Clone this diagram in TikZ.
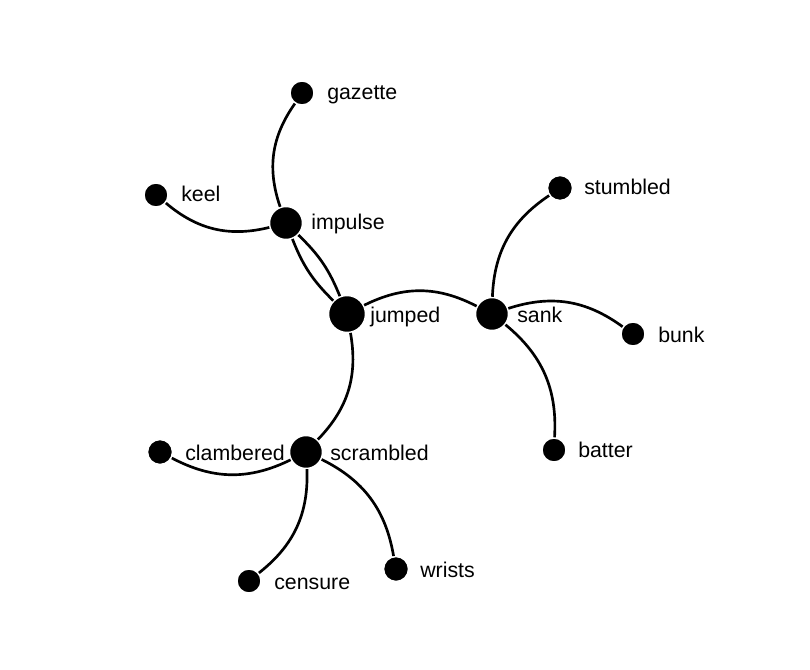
\documentclass[tikz,border=0pt]{standalone}
\usepackage{fontspec}
\setmainfont{Liberation Sans}

\begin{document}
\begin{tikzpicture}[x=0.75pt, y=0.75pt,
  dot/.style={circle, fill=black, draw=white, line width=1.1pt, inner sep=0pt, minimum size=#1},
  word/.style={anchor=base west, inner sep=0pt, font=\fontsize{16}{19}\selectfont},
  link/.style={line width=2pt, bend left=#1},
  link/.default=27]
\useasboundingbox (0,0) rectangle (810,-670);
% words
\node [dot=18pt]    (gazette)   at (302,-93)  {};
\node [dot=18pt]    (keel)      at (156,-195) {};
\node [dot=24.75pt] (impulse)   at (286,-223) {};
\node [dot=27.75pt] (jumped)    at (347,-314) {};
\node [dot=24.75pt] (sank)      at (492,-314) {};
\node [dot=18.75pt] (stumbled)  at (560,-188) {};
\node [dot=18pt]    (bunk)      at (633,-334) {};
\node [dot=18pt]    (batter)    at (554,-450) {};
\node [dot=24.75pt] (scrambled) at (306,-452) {};
\node [dot=18.75pt] (clambered) at (160,-452) {};
\node [dot=18pt]    (censure)   at (249,-581) {};
\node [dot=18.75pt] (wrists)    at (396,-569) {};
% labels
\node [word] (gazette-l)   at (327,-100) {gazette};
\node [word] (keel-l)      at (181,-202) {keel};
\node [word] (impulse-l)   at (311,-230) {impulse};
\node [word] (jumped-l)    at (370,-322) {jumped};
\node [word] (sank-l)      at (517,-322) {sank};
\node [word] (stumbled-l)  at (584,-195) {stumbled};
\node [word] (bunk-l)      at (658,-342) {bunk};
\node [word] (batter-l)    at (578,-457) {batter};
\node [word] (scrambled-l) at (330,-460) {scrambled};
\node [word] (clambered-l) at (185,-460) {clambered};
\node [word] (censure-l)   at (274,-589) {censure};
\node [word] (wrists-l)    at (420,-577) {wrists};
% links
\draw [link] (impulse) to (gazette);
\draw [link] (impulse) to (keel);
\draw [link=12] (impulse) to (jumped);
\draw [link=12] (jumped) to (impulse);
\draw [link] (jumped) to (sank);
\draw [link] (jumped) to (scrambled);
\draw [link] (sank) to (stumbled);
\draw [link] (sank) to (bunk);
\draw [link] (sank) to (batter);
\draw [link] (scrambled) to (clambered);
\draw [link] (scrambled) to (censure);
\draw [link] (scrambled) to (wrists);
\end{tikzpicture}
\end{document}
